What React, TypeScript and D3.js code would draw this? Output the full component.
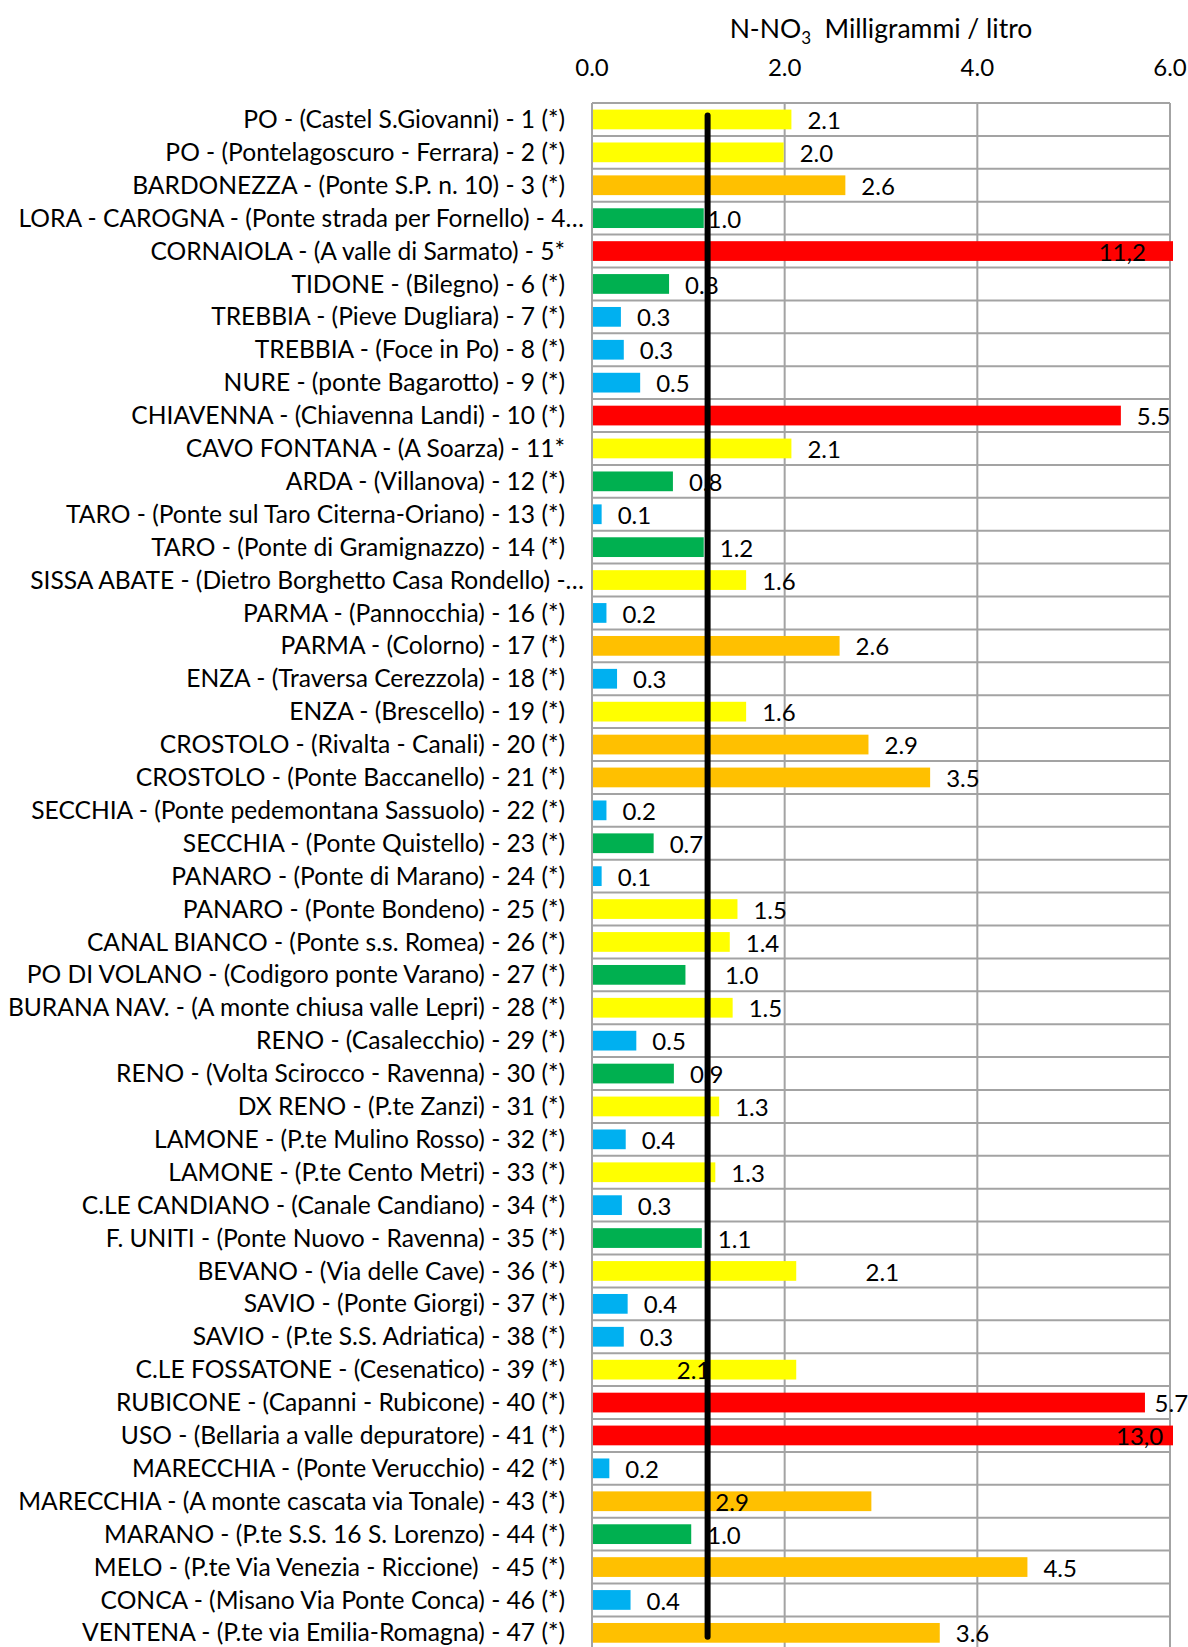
import React from 'react';
import * as d3 from 'd3';

// stations (category axis, top to bottom)
const stations = [
  'PO - (Castel S.Giovanni) - 1 (*)',
  'PO - (Pontelagoscuro - Ferrara) - 2 (*)',
  'BARDONEZZA - (Ponte S.P. n. 10) - 3 (*)',
  'LORA - CAROGNA - (Ponte strada per Fornello) - 4…',
  'CORNAIOLA - (A valle di Sarmato) - 5*',
  'TIDONE - (Bilegno) - 6 (*)',
  'TREBBIA - (Pieve Dugliara) - 7 (*)',
  'TREBBIA - (Foce in Po) - 8 (*)',
  'NURE - (ponte Bagarotto) - 9 (*)',
  'CHIAVENNA - (Chiavenna Landi) - 10 (*)',
  'CAVO FONTANA - (A Soarza) - 11*',
  'ARDA - (Villanova) - 12 (*)',
  'TARO - (Ponte sul Taro Citerna-Oriano) - 13 (*)',
  'TARO - (Ponte di Gramignazzo) - 14 (*)',
  'SISSA ABATE - (Dietro Borghetto Casa Rondello) -…',
  'PARMA - (Pannocchia) - 16 (*)',
  'PARMA - (Colorno) - 17 (*)',
  'ENZA - (Traversa Cerezzola) - 18 (*)',
  'ENZA - (Brescello) - 19 (*)',
  'CROSTOLO - (Rivalta - Canali) - 20 (*)',
  'CROSTOLO - (Ponte Baccanello) - 21 (*)',
  'SECCHIA - (Ponte pedemontana Sassuolo) - 22 (*)',
  'SECCHIA - (Ponte Quistello) - 23 (*)',
  'PANARO - (Ponte di Marano) - 24 (*)',
  'PANARO - (Ponte Bondeno) - 25 (*)',
  'CANAL BIANCO - (Ponte s.s. Romea) - 26 (*)',
  'PO DI VOLANO - (Codigoro ponte Varano) - 27 (*)',
  'BURANA NAV. - (A monte chiusa valle Lepri) - 28 (*)',
  'RENO - (Casalecchio) - 29 (*)',
  'RENO - (Volta Scirocco - Ravenna) - 30 (*)',
  'DX RENO - (P.te Zanzi) - 31 (*)',
  'LAMONE - (P.te Mulino Rosso) - 32 (*)',
  'LAMONE - (P.te Cento Metri) - 33 (*)',
  'C.LE CANDIANO - (Canale Candiano) - 34 (*)',
  'F. UNITI - (Ponte Nuovo - Ravenna) - 35 (*)',
  'BEVANO - (Via delle Cave) - 36 (*)',
  'SAVIO - (Ponte Giorgi) - 37 (*)',
  'SAVIO - (P.te S.S. Adriatica) - 38 (*)',
  'C.LE FOSSATONE - (Cesenatico) - 39 (*)',
  'RUBICONE - (Capanni - Rubicone) - 40 (*)',
  'USO - (Bellaria a valle depuratore) - 41 (*)',
  'MARECCHIA - (Ponte Verucchio) - 42 (*)',
  'MARECCHIA - (A monte cascata via Tonale) - 43 (*)',
  'MARANO - (P.te S.S. 16 S. Lorenzo) - 44 (*)',
  'MELO - (P.te Via Venezia - Riccione)  - 45 (*)',
  'CONCA - (Misano Via Ponte Conca) - 46 (*)',
  'VENTENA - (P.te via Emilia-Romagna) - 47 (*)',
];

// N-NO3 mg/l (bar lengths as drawn)
const values = [
  2.07, 1.99, 2.63, 1.16, 11.2, 0.8, 0.3, 0.33, 0.5, 5.49,
  2.07, 0.84, 0.1, 1.16, 1.6, 0.15, 2.57, 0.26, 1.6, 2.87,
  3.51, 0.15, 0.64, 0.1, 1.51, 1.43, 0.97, 1.46, 0.46, 0.85,
  1.32, 0.35, 1.28, 0.31, 1.14, 2.12, 0.37, 0.33, 2.12, 5.74,
  13.0, 0.18, 2.9, 1.03, 4.52, 0.4, 3.61,
];

// data labels as printed
const valueLabels = [
  '2.1', '2.0', '2.6', '1.0', '11,2', '0.8', '0.3', '0.3', '0.5', '5.5',
  '2.1', '0.8', '0.1', '1.2', '1.6', '0.2', '2.6', '0.3', '1.6', '2.9',
  '3.5', '0.2', '0.7', '0.1', '1.5', '1.4', '1.0', '1.5', '0.5', '0.9',
  '1.3', '0.4', '1.3', '0.3', '1.1', '2.1', '0.4', '0.3', '2.1', '5.7',
  '13,0', '0.2', '2.9', '1.0', '4.5', '0.4', '3.6',
];

// quality class per station
const classes = [
  'y', 'y', 'o', 'g', 'r', 'g', 'b', 'b', 'b', 'r',
  'y', 'g', 'b', 'g', 'y', 'b', 'o', 'b', 'y', 'o',
  'o', 'b', 'g', 'b', 'y', 'y', 'g', 'y', 'b', 'g',
  'y', 'b', 'y', 'b', 'g', 'y', 'b', 'b', 'y', 'r',
  'r', 'b', 'o', 'g', 'o', 'b', 'o',
];

const xTicks = [0, 2, 4, 6];
const threshold = 1.2;

const classColor: Record<string, string> = {
  b: '#00B0F0',
  g: '#00B050',
  y: '#FFFF00',
  o: '#FFC000',
  r: '#FF0000',
};

// labels that were dragged by hand in the original (position in data units)
const movedLabels: Record<number, { at: number; anchor?: string }> = {
  3: { at: 1.2 },
  4: { at: 5.75, anchor: 'end' },
  26: { at: 1.38 },
  35: { at: 2.84 },
  38: { at: 0.88 },
  39: { at: 5.84 },
  40: { at: 5.93, anchor: 'end' },
  42: { at: 1.28 },
};

const W = 1188;
const H = 1647;
const font = 'Lato, "Open Sans", sans-serif';
const fs = 24;
const catFs = 24.6;

export default function App() {
  const left = 592;
  const right = 1170;
  const top = 103;
  const band = 32.9;

  const x = d3.scaleLinear().domain([0, 6]).range([left, right]);
  const y = d3
    .scaleBand<number>()
    .domain(d3.range(stations.length))
    .range([top, top + band * stations.length])
    .paddingInner(0.4)
    .paddingOuter(0.2);
  const step = y.step();
  const rowTop = (i: number) => top + i * step;
  const mid = (i: number) => (y(i) as number) + y.bandwidth() / 2;
  const bottom = top + step * stations.length;
  const grid = '#a3a3a3';

  return (
    <svg width={W} height={H} style={{ display: 'block', position: 'absolute', left: 0, top: 0 }}>
      <rect width={W} height={H} fill="#fff" />
      {/* title */}
      <text x={(left + right) / 2} y={38} textAnchor="middle" fontFamily={font} fontSize={26.5} fill="#000">
        N-NO<tspan dy={6} fontSize={17}>3</tspan>
        <tspan dy={-6}>{'\u00a0\u00a0Milligrammi / litro'}</tspan>
      </text>
      {/* x tick labels */}
      {xTicks.map((t) => (
        <text key={t} x={x(t)} y={76} textAnchor="middle" fontFamily={font} fontSize={fs} fill="#000">
          {d3.format('.1f')(t)}
        </text>
      ))}
      {/* vertical grid */}
      {xTicks.map((t) => (
        <line key={'v' + t} x1={x(t)} x2={x(t)} y1={top} y2={bottom} stroke={grid} strokeWidth={2} />
      ))}
      {/* horizontal grid */}
      {d3.range(stations.length + 1).map((i) => (
        <line key={'h' + i} x1={left} x2={right} y1={rowTop(i)} y2={rowTop(i)} stroke={grid} strokeWidth={2} />
      ))}
      {/* bars */}
      {values.map((v, i) => (
        <rect
          key={'b' + i}
          x={x(0) + 1}
          y={y(i)}
          width={Math.min(x(v), right + 3) - x(0) - 1}
          height={y.bandwidth()}
          fill={classColor[classes[i]]}
        />
      ))}
      {/* category labels (truncated ones run closer to the axis) */}
      {stations.map((s, i) => (
        <text
          key={'c' + i}
          x={s.endsWith('…') ? left - 8 : left - 27}
          y={mid(i)}
          dy="0.35em"
          textAnchor="end"
          fontFamily={font}
          fontSize={catFs}
          fill="#000"
          style={{ whiteSpace: 'pre' }}
        >
          {s}
        </text>
      ))}
      {/* value labels */}
      {valueLabels.map((l, i) => {
        const m = movedLabels[i];
        const lx = m ? x(m.at) : Math.min(x(values[i]), right) + 16;
        return (
          <text
            key={'l' + i}
            x={lx}
            y={mid(i)}
            dy="0.4em"
            textAnchor={m && m.anchor ? m.anchor : 'start'}
            fontFamily={font}
            fontSize={fs}
            fill="#000"
          >
            {l}
          </text>
        );
      })}
      {/* threshold line */}
      <line
        x1={x(threshold)}
        x2={x(threshold)}
        y1={mid(0) - 4}
        y2={mid(stations.length - 1) + 4}
        stroke="#000"
        strokeWidth={6}
        strokeLinecap="round"
      />
    </svg>
  );
}
